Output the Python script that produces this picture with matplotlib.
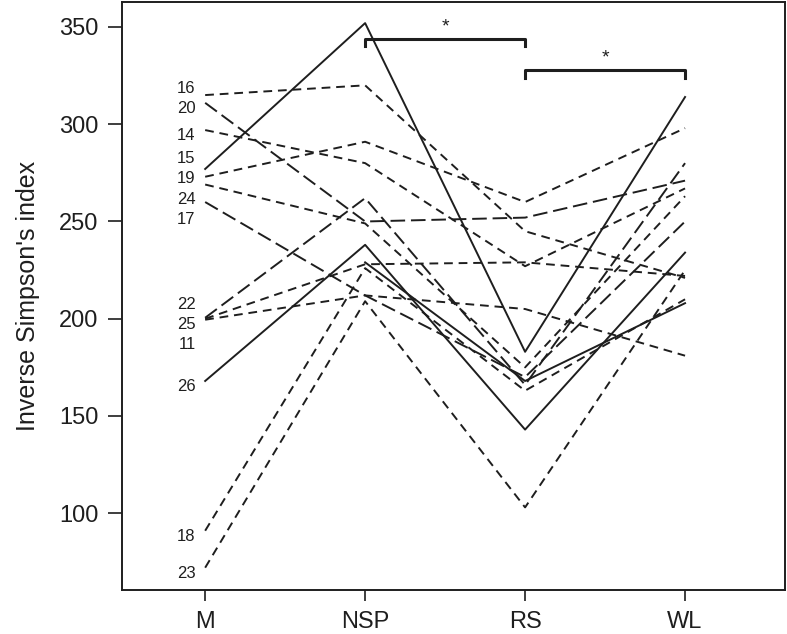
import numpy as np
import matplotlib
matplotlib.use('Agg')
import matplotlib.pyplot as plt

plt.rcParams['font.family'] = ['Liberation Sans', 'DejaVu Sans']

groups = ['M', 'NSP', 'RS', 'WL']
subjects = ['16', '20', '14', '15', '19', '24', '17', '22', '25', '11', '26', '18', '23', '']
M   = [315, 311, 297, 277, 273, 269, 260, 200.5, 200, 199.5, 168, 91, 72, np.nan]
NSP = [320, 250, 280, 352, 291, 249, 212, 262, 228, 212, 238, 226, 209, 229]
RS  = [245, 252, 227, 183, 260, 175, 170, 166, 229, 205, 143, 163, 103, 168]
WL  = [221, 271, 267, 314, 298, 263, 250, 280, 222, 181, 234, 210, 225, 208]
# 1 = solid, 2 = dashed, 5 = long dash (R lty codes)
lty = [2, 5, 2, 1, 2, 2, 5, 5, 2, 2, 1, 2, 2, 1]

# significance brackets: (from group, to group, height)
brackets = [(1, 2, 344), (2, 3, 328)]

styles = {1: '-', 2: (0, (4.5, 3)), 5: (0, (7.5, 3))}
col = '#1e1e1e'

fig = plt.figure(figsize=(7.87, 6.34), dpi=100)
ax = fig.add_axes([0.155, 0.069, 0.8425, 0.928])

x = np.arange(1, 5)
vals = np.array([M, NSP, RS, WL]).T
for i in range(len(subjects)):
    ax.plot(x, vals[i], color=col, lw=1.4, linestyle=styles[lty[i]])

# subject labels at M, spread apart so they don't overlap
order = [i for i in np.argsort(M) if not np.isnan(M[i])]
pos = np.array([M[i] for i in order], dtype=float)
gap = 10.5
for _ in range(500):
    moved = False
    for k in range(len(pos) - 1):
        d = pos[k + 1] - pos[k]
        if d < gap - 1e-6:
            if k + 1 == len(pos) - 1:
                # top label has free room above
                pos[k + 1] += gap - d
            else:
                s = (gap - d) / 2
                pos[k] -= s
                pos[k + 1] += s
            moved = True
    if not moved:
        break
for k, i in enumerate(order):
    ax.text(0.94, pos[k] - 3, subjects[i], ha='right', va='center',
            fontsize=12, color=col)

for a, b, h in brackets:
    ax.plot([x[a], x[a], x[b], x[b]], [h - 4, h, h, h - 4], color=col, lw=2.2)
    ax.text((x[a] + x[b]) / 2, h + 1.5, '*', ha='center', va='bottom',
            fontsize=14, color=col)

ax.set_xlim(0.48, 4.625)
ax.set_ylim(60.4, 362.9)
ax.set_xticks(x)
ax.set_xticklabels(groups)
ax.set_yticks([100, 150, 200, 250, 300, 350])
ax.tick_params(labelsize=17, length=10, width=1.2, colors=col)
ax.tick_params(axis='x', pad=7, length=8)
ax.tick_params(axis='y', pad=7)
ax.set_ylabel("Inverse Simpson's index", fontsize=18, color=col, labelpad=14)
for s in ax.spines.values():
    s.set_linewidth(1.4)
    s.set_color(col)

fig.savefig('out.png', dpi=100)
